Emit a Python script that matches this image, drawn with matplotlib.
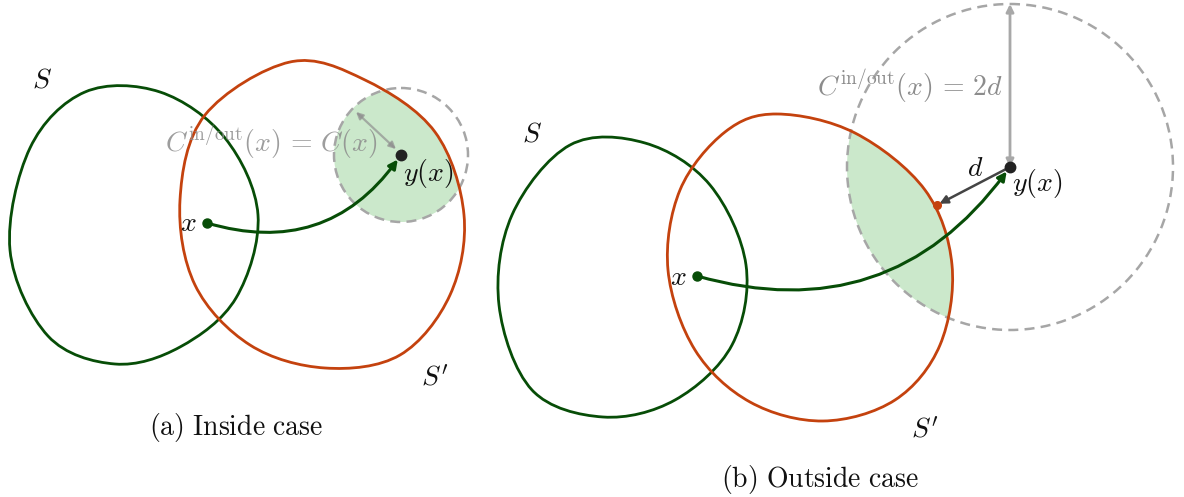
import numpy as np
import matplotlib.pyplot as plt
from matplotlib.path import Path
from matplotlib.patches import PathPatch, Circle, FancyArrowPatch

plt.rcParams["mathtext.fontset"] = "cm"

GREEN = "#074d07"
ORANGE = "#c4420e"
FILL = "#cbe8cb"
DASH = "#a6a6a6"

# ---- panel (a) outlines (pixel coords) ----
s_a_x = [85, 160, 225, 258, 236, 180, 115, 48, 10, 30]
s_a_y = [92, 92, 138, 215, 298, 347, 364, 336, 250, 148]
sp_a_x = [290, 365, 435, 464, 450, 400, 325, 250, 195, 180, 205]
sp_a_y = [62, 80, 132, 215, 295, 355, 368, 345, 285, 200, 115]
circ_a = (401, 155, 67)
x_a = (207, 223)

# ---- panel (b) outlines ----
s_b_x = [570, 645, 710, 746, 732, 675, 603, 532, 499, 512]
s_b_y = [145, 143, 185, 265, 345, 400, 417, 390, 305, 215]
sp_b_x = [777, 855, 925, 952, 940, 895, 823, 750, 695, 668, 680, 725]
sp_b_y = [114, 133, 190, 265, 345, 400, 421, 402, 350, 270, 190, 132]
circ_b = (1010, 167, 163)
x_b = (697, 276)
d_pt = (937, 205)


def closed_path(xs, ys):
    p = np.column_stack([xs, ys]).astype(float)
    n = len(p)
    verts = [p[0]]
    codes = [Path.MOVETO]
    for i in range(n):
        p0, p1, p2, p3 = p[i - 1], p[i], p[(i + 1) % n], p[(i + 2) % n]
        verts += [p1 + (p2 - p0) / 6, p2 - (p3 - p1) / 6, p2]
        codes += [Path.CURVE4] * 3
    return Path(verts, codes)


fig = plt.figure(figsize=(11.84, 4.97), dpi=100)
ax = fig.add_axes([0, 0, 1, 1])
ax.set_xlim(0, 1184)
ax.set_ylim(497, 0)
ax.axis("off")

for sx, sy, spx, spy, (cx, cy, r) in [
    (s_a_x, s_a_y, sp_a_x, sp_a_y, circ_a),
    (s_b_x, s_b_y, sp_b_x, sp_b_y, circ_b),
]:
    clip = Circle((cx, cy), r, transform=ax.transData, facecolor="none", edgecolor="none")
    ax.add_patch(clip)
    fill = PathPatch(closed_path(spx, spy), facecolor=FILL, edgecolor="none", zorder=1)
    ax.add_patch(fill)
    fill.set_clip_path(clip)
    ax.add_patch(Circle((cx, cy), r, facecolor="none", edgecolor=DASH,
                        lw=1.8, ls=(0, (4, 2.5)), zorder=2))
    ax.add_patch(PathPatch(closed_path(sx, sy), facecolor="none", edgecolor=GREEN, lw=2, zorder=3))
    ax.add_patch(PathPatch(closed_path(spx, spy), facecolor="none", edgecolor=ORANGE, lw=2, zorder=3))

# panel (a) annotations
ax.add_patch(FancyArrowPatch((354, 110), (398, 151), arrowstyle="<|-|>", mutation_scale=10,
                             color="#909090", alpha=0.7, lw=1.6, zorder=4))
ax.add_patch(FancyArrowPatch(x_a, (circ_a[0], circ_a[1]), arrowstyle="-|>", mutation_scale=13,
                             connectionstyle="arc3,rad=0.36", color=GREEN, lw=2.2, zorder=5,
                             shrinkA=0, shrinkB=4))
ax.plot(*x_a, "o", color=GREEN, ms=6.5, zorder=6)
ax.plot(circ_a[0], circ_a[1], "o", color="#222222", ms=7.5, zorder=6)
ax.text(271, 143, r"$C^{\mathrm{in/out}}(x)\,=\,C(x)$", fontsize=20, color="#8c8c8c",
        alpha=0.85, ha="center", va="center", zorder=4)
ax.text(428, 174, r"$y(x)$", fontsize=20, ha="center", va="center", color="#111111", zorder=7)
ax.text(188, 223, r"$x$", fontsize=20, ha="center", va="center", color="#111111")
ax.text(42, 80, r"$S$", fontsize=20, ha="center", va="center", color="#111111")
ax.text(435, 378, r"$S'$", fontsize=20, ha="center", va="center", color="#111111")
ax.text(236, 428, r"$\mathrm{(a)\ Inside\ case}$", fontsize=20, ha="center", va="center", color="#111111")

# panel (b) annotations
ax.add_patch(FancyArrowPatch((circ_b[0], circ_b[1]), (circ_b[0], circ_b[1] - circ_b[2]),
                             arrowstyle="<|-|>", mutation_scale=11, color="#a8a8a8",
                             lw=2, shrinkA=0, shrinkB=0, zorder=4))
ax.add_patch(FancyArrowPatch((circ_b[0], circ_b[1]), d_pt, arrowstyle="-|>", mutation_scale=12,
                             color="#444444", lw=1.8, shrinkA=2, shrinkB=2, zorder=5))
ax.add_patch(FancyArrowPatch(x_b, (circ_b[0], circ_b[1]), arrowstyle="-|>", mutation_scale=13,
                             connectionstyle="arc3,rad=0.35", color=GREEN, lw=2.2, zorder=5,
                             shrinkA=0, shrinkB=4))
ax.plot(*x_b, "o", color=GREEN, ms=6.5, zorder=6)
ax.plot(*d_pt, "o", color=ORANGE, ms=5.5, zorder=6)
ax.plot(circ_b[0], circ_b[1], "o", color="#222222", ms=7.5, zorder=6)
ax.text(910, 87, r"$C^{\mathrm{in/out}}(x)\,=\,2d$", fontsize=20, color="#8c8c8c",
        ha="center", va="center", zorder=4)
ax.text(975, 168, r"$d$", fontsize=20, ha="center", va="center", color="#111111")
ax.text(1037, 184, r"$y(x)$", fontsize=20, ha="center", va="center", color="#111111", zorder=7)
ax.text(678, 277, r"$x$", fontsize=20, ha="center", va="center", color="#111111")
ax.text(532, 133, r"$S$", fontsize=20, ha="center", va="center", color="#111111")
ax.text(925, 430, r"$S'$", fontsize=20, ha="center", va="center", color="#111111")
ax.text(820, 480, r"$\mathrm{(b)\ Outside\ case}$", fontsize=20, ha="center", va="center", color="#111111")

fig.savefig("out.png", dpi=100)
